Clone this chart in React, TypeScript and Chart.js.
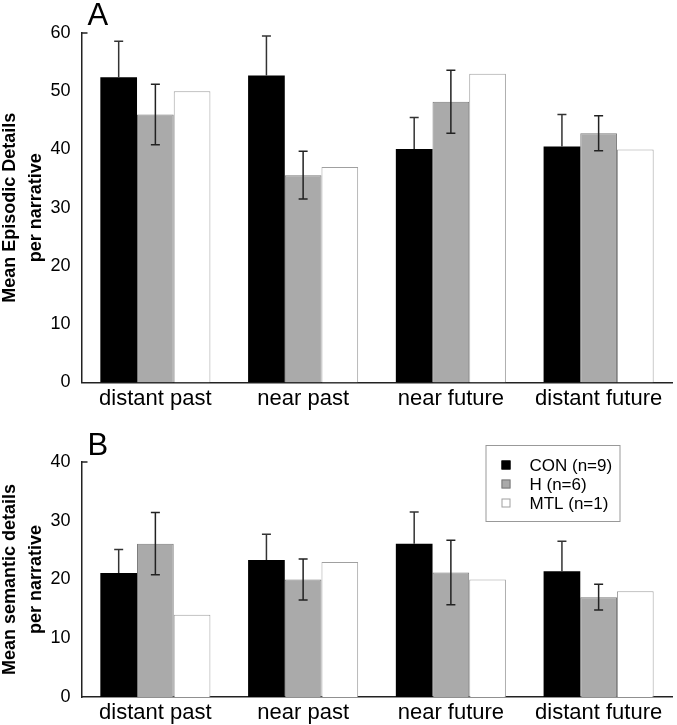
import React, { useEffect, useRef } from 'react';
import { Chart, registerables } from 'chart.js';

Chart.register(...registerables);

const categories = ['distant past', 'near past', 'near future', 'distant future'];
const seriesNames = ['CON (n=9)', 'H (n=6)', 'MTL (n=1)'];

const episodicCON = [52.4, 52.7, 40.1, 40.5];
const episodicH = [46.0, 35.6, 48.2, 42.8];
const episodicMTL = [50, 37, 53, 40];
const episodicErrCON = [6.2, 6.8, 5.4, 5.5];
const episodicErrH = [5.2, 4.1, 5.4, 3.0];

const semanticCON = [21.1, 23.3, 26.1, 21.4];
const semanticH = [26.1, 20.0, 21.2, 17.0];
const semanticMTL = [14, 23, 20, 18];
const semanticErrCON = [4.0, 4.4, 5.4, 5.1];
const semanticErrH = [5.3, 3.5, 5.5, 2.2];

const episodicAxis = { min: 0, max: 60, step: 10 };
const semanticAxis = { min: 0, max: 40, step: 10 };

const FONT = "'Liberation Sans', Arial, Helvetica, sans-serif";

const errorBarPlugin = {
  id: 'errorBars',
  afterDatasetsDraw(chart: any) {
    const ctx = chart.ctx;
    const yScale = chart.scales.y;
    chart.data.datasets.forEach((ds: any, i: number) => {
      if (!ds.errors) return;
      const meta = chart.getDatasetMeta(i);
      meta.data.forEach((el: any, j: number) => {
        const v = ds.data[j];
        const e = ds.errors[j];
        if (e == null) return;
        const x = el.x;
        const yt = yScale.getPixelForValue(v + e);
        const yb = ds.errorUpOnly ? yScale.getPixelForValue(v) : yScale.getPixelForValue(v - e);
        ctx.save();
        ctx.strokeStyle = ds.errorColor || '#333';
        ctx.lineWidth = 1.5;
        ctx.beginPath();
        ctx.moveTo(x, yt);
        ctx.lineTo(x, yb);
        ctx.moveTo(x - 4.5, yt);
        ctx.lineTo(x + 4.5, yt);
        if (!ds.errorUpOnly) {
          ctx.moveTo(x - 4.5, yb);
          ctx.lineTo(x + 4.5, yb);
        }
        ctx.stroke();
        ctx.restore();
      });
    });
  },
};

const decorPlugin = {
  id: 'decor',
  afterDraw(chart: any, _args: any, opts: any) {
    const ctx = chart.ctx;
    const ca = chart.chartArea;
    ctx.save();
    // top cap tick of y axis
    ctx.strokeStyle = '#222';
    ctx.lineWidth = 1.5;
    ctx.beginPath();
    ctx.moveTo(ca.left, ca.top);
    ctx.lineTo(ca.left + 6, ca.top);
    ctx.stroke();
    // panel letter
    if (opts.letter) {
      ctx.fillStyle = '#000';
      ctx.font = `31px ${FONT}`;
      ctx.textBaseline = 'alphabetic';
      ctx.textAlign = 'left';
      ctx.fillText(opts.letter, ca.left + 6, ca.top - opts.letterGap);
    }
    // boxed legend
    if (opts.legend) {
      const x0 = ca.right - 187;
      const y0 = ca.top - 17;
      const w = 134;
      const h = 76;
      ctx.fillStyle = '#fff';
      ctx.fillRect(x0, y0, w, h);
      ctx.strokeStyle = '#999';
      ctx.lineWidth = 1;
      ctx.strokeRect(x0 + 0.5, y0 + 0.5, w, h);
      ctx.font = `17px ${FONT}`;
      ctx.textBaseline = 'middle';
      chart.data.datasets.forEach((ds: any, i: number) => {
        const cy = y0 + 20 + i * 19;
        ctx.fillStyle = ds.backgroundColor;
        ctx.fillRect(x0 + 16, cy - 4.5, 9, 9);
        ctx.strokeStyle = ds.borderColor;
        ctx.lineWidth = 1;
        ctx.strokeRect(x0 + 16.5, cy - 4, 8, 8);
        ctx.fillStyle = '#000';
        ctx.fillText(ds.label, x0 + 44, cy + 1);
      });
    }
    ctx.restore();
  },
};

function makeDatasets(con: number[], h: number[], mtl: number[], errCon: number[], errH: number[]) {
  return [
    {
      label: seriesNames[0],
      data: con,
      errors: errCon,
      errorUpOnly: true,
      errorColor: '#333',
      backgroundColor: '#000000',
      borderColor: '#000000',
      borderWidth: 0,
    },
    {
      label: seriesNames[1],
      data: h,
      errors: errH,
      errorColor: '#222',
      backgroundColor: '#aaaaaa',
      borderColor: '#7a7a7a',
      borderWidth: 1,
    },
    {
      label: seriesNames[2],
      data: mtl,
      backgroundColor: '#ffffff',
      borderColor: '#a0a0a0',
      borderWidth: 1,
    },
  ];
}

function makeConfig(
  datasets: any[],
  axis: { min: number; max: number; step: number },
  titleLines: string[],
  padTop: number,
  xHeight: number,
  decor: any
): any {
  return {
    type: 'bar',
    data: { labels: categories, datasets },
    plugins: [errorBarPlugin, decorPlugin],
    options: {
      animation: false,
      responsive: false,
      maintainAspectRatio: false,
      layout: { padding: { top: padTop, right: 4.5, bottom: 0, left: 0 } },
      datasets: {
        bar: { categoryPercentage: 0.745, barPercentage: 1.0 },
      },
      plugins: {
        legend: { display: false },
        tooltip: { enabled: false },
        title: { display: false },
        decor,
      },
      scales: {
        x: {
          type: 'category',
          grid: { display: false, drawTicks: false },
          border: { display: true, color: '#222', width: 1.5 },
          ticks: {
            color: '#000',
            font: { family: FONT, size: 22 },
            padding: 3,
            maxRotation: 0,
            autoSkip: false,
          },
          afterFit(scale: any) {
            scale.height = xHeight;
          },
        },
        y: {
          min: axis.min,
          max: axis.max,
          grid: { display: false, drawTicks: false },
          border: { display: true, color: '#222', width: 1.5 },
          ticks: {
            stepSize: axis.step,
            color: '#000',
            font: { family: FONT, size: 18 },
            padding: 11,
          },
          title: {
            display: true,
            text: titleLines,
            color: '#000',
            font: { family: FONT, size: 18, weight: 'bold', lineHeight: 1.45 },
            padding: { top: -3.5, bottom: 0 },
          },
          afterFit(scale: any) {
            scale.width = 81.5;
          },
        },
      },
    },
  };
}

function ChartCanvas({ config, width, height }: { config: any; width: number; height: number }) {
  const ref = useRef<HTMLCanvasElement | null>(null);
  useEffect(() => {
    if (!ref.current) return;
    const chart = new Chart(ref.current, config);
    return () => chart.destroy();
  }, [config]);
  return <canvas ref={ref} width={width} height={height} style={{ display: 'block', width, height }} />;
}

const configA = makeConfig(
  makeDatasets(episodicCON, episodicH, episodicMTL, episodicErrCON, episodicErrH),
  episodicAxis,
  ['Mean Episodic Details', 'per narrative'],
  33,
  37.5,
  { letter: 'A', letterGap: 8, legend: false }
);

const configB = makeConfig(
  makeDatasets(semanticCON, semanticH, semanticMTL, semanticErrCON, semanticErrH),
  semanticAxis,
  ['Mean semantic details', 'per narrative'],
  42,
  28,
  { letter: 'B', letterGap: 7, legend: true }
);

export default function App() {
  return (
    <div
      style={{
        position: 'absolute',
        left: 0,
        top: 0,
        width: 677,
        height: 725,
        background: '#fff',
        overflow: 'hidden',
      }}
    >
      <ChartCanvas config={configA} width={677} height={420} />
      <ChartCanvas config={configB} width={677} height={305} />
    </div>
  );
}
